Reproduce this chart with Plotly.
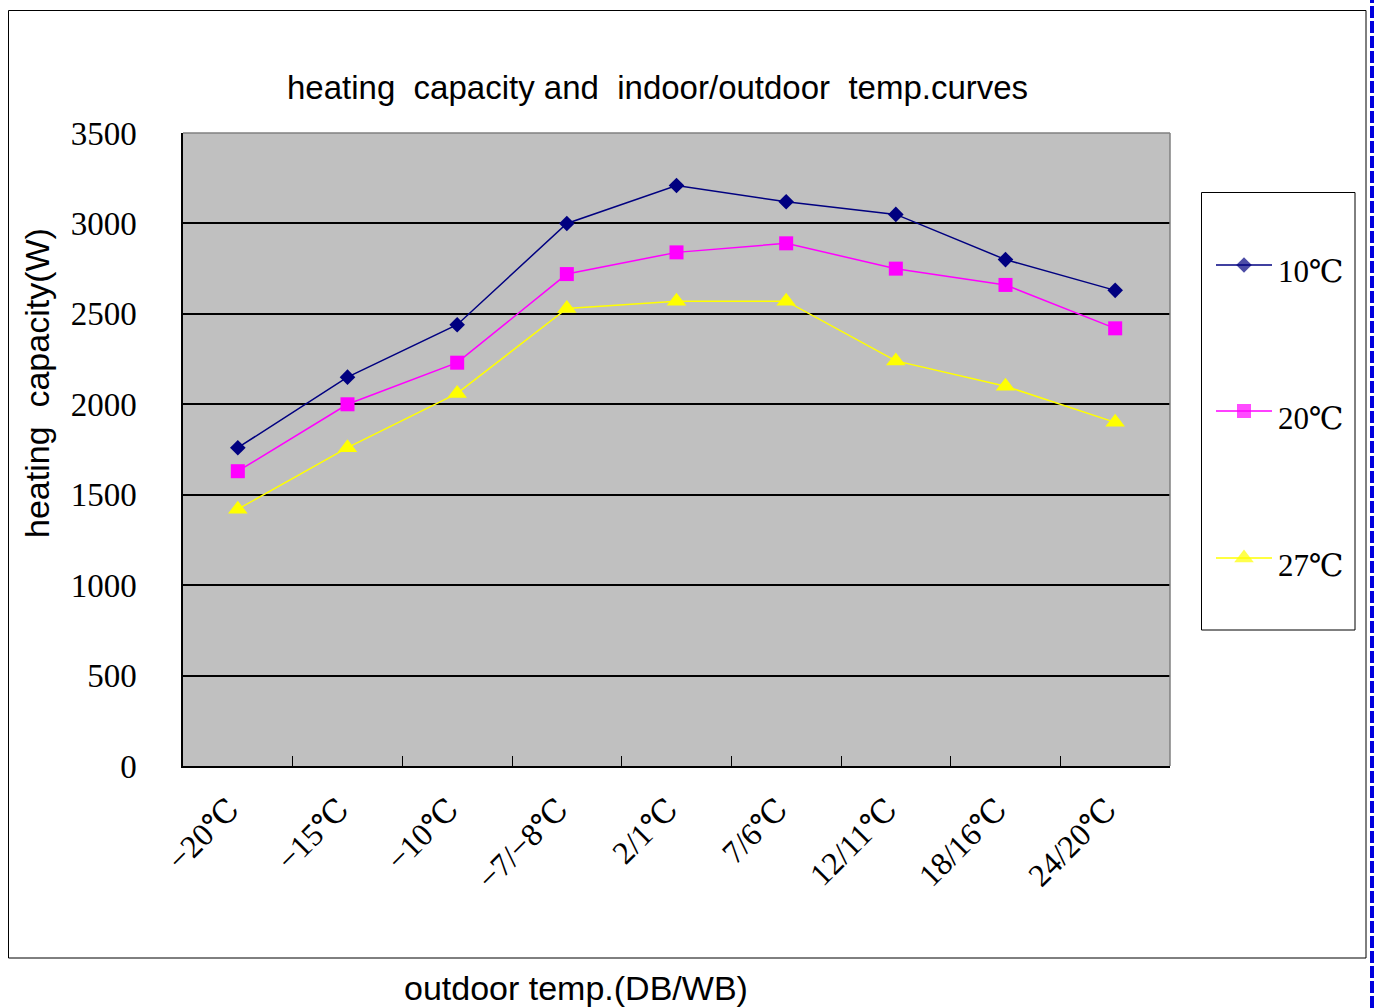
import plotly.graph_objects as go

# Outdoor conditions (DB/WB) on the x axis
categories = ["−20℃", "−15℃", "−10℃", "−7/−8℃", "2/1℃", "7/6℃", "12/11℃", "18/16℃", "24/20℃"]

# Heating capacity (W) for each indoor temperature
cap_10 = [1760, 2150, 2440, 3000, 3210, 3120, 3050, 2800, 2630]
cap_20 = [1630, 2000, 2230, 2720, 2840, 2890, 2750, 2660, 2420]
cap_27 = [1420, 1760, 2060, 2530, 2570, 2570, 2240, 2100, 1900]

series_names = ["10℃", "20℃", "27℃"]
series_colors = ["#000080", "#FF00FF", "#FFFF00"]
series_symbols = ["diamond", "square", "triangle-up"]
series_sizes = [12, 14, 17]
y_ticks = [0, 500, 1000, 1500, 2000, 2500, 3000, 3500]

W, H = 1378, 1008
# plot area in pixels
PL, PR, PT, PB = 183, 1170, 133, 766

def px(x):
    return x / W

def py(y):
    return 1 - y / H

SERIF = "Liberation Serif, DejaVu Serif, serif"
SANS = "Liberation Sans, Arial, sans-serif"

fig = go.Figure()

for name, vals, col, sym, sz in zip(series_names, [cap_10, cap_20, cap_27],
                                    series_colors, series_symbols, series_sizes):
    fig.add_trace(go.Scatter(
        x=categories, y=vals, mode="lines+markers", name=name,
        line=dict(color=col, width=1.5),
        marker=dict(symbol=sym, size=sz, color=col, line=dict(width=0)),
        xaxis="x", yaxis="y", showlegend=False, cliponaxis=False,
    ))

# Legend entries drawn on a full-figure pixel axis
legend_rows = [265, 411, 558]
for name, col, sym, sz, ly in zip(series_names, series_colors, series_symbols,
                                  series_sizes, legend_rows):
    fig.add_trace(go.Scatter(
        x=[1216, 1244, 1272], y=[ly, ly, ly], mode="lines+markers",
        line=dict(color=col, width=1.5),
        marker=dict(symbol=sym, size=[0, sz, 0], color=col, line=dict(width=0)),
        xaxis="x2", yaxis="y2", showlegend=False, hoverinfo="skip",
    ))
    fig.add_annotation(x=px(1276), y=py(ly + 7), xref="paper", yref="paper",
                       text=name, showarrow=False, xanchor="left", yanchor="middle",
                       font=dict(family=SERIF, size=31, color="black"))

shapes = [
    # plot area fill
    dict(type="rect", xref="paper", yref="paper", x0=px(PL), x1=px(PR), y0=py(PB), y1=py(PT),
         fillcolor="#C0C0C0", line=dict(width=0), layer="below"),
    # grey top and right border of plot area
    dict(type="line", xref="paper", yref="paper", x0=px(PL), x1=px(PR), y0=py(PT), y1=py(PT),
         line=dict(color="#808080", width=1.5), layer="above"),
    dict(type="line", xref="paper", yref="paper", x0=px(PR), x1=px(PR), y0=py(PT), y1=py(PB),
         line=dict(color="#808080", width=1.5), layer="above"),
    # outer chart border
    dict(type="rect", xref="paper", yref="paper", x0=px(8.5), x1=px(1366), y0=py(958), y1=py(10.5),
         line=dict(color="black", width=1), fillcolor="rgba(0,0,0,0)"),
    # legend box
    dict(type="rect", xref="paper", yref="paper", x0=px(1201.5), x1=px(1355), y0=py(630), y1=py(192.5),
         line=dict(color="black", width=1), fillcolor="white", layer="below"),
    # dashed blue page edge
    dict(type="line", xref="paper", yref="paper", x0=px(1372), x1=px(1372), y0=0, y1=1,
         line=dict(color="#0000DD", width=4, dash="12px,3px")),
]

annotations = [
    dict(x=px(657), y=py(87), xref="paper", yref="paper", showarrow=False,
         text="heating  capacity and  indoor/outdoor  temp.curves",
         font=dict(family=SANS, size=33, color="black"), xanchor="center", yanchor="middle"),
    dict(x=px(37), y=py(383), xref="paper", yref="paper", showarrow=False,
         text="heating  capacity(W)", textangle=-90,
         font=dict(family=SANS, size=34, color="black"), xanchor="center", yanchor="middle"),
    dict(x=px(576), y=py(988), xref="paper", yref="paper", showarrow=False,
         text="outdoor temp.(DB/WB)",
         font=dict(family=SANS, size=34, color="black"), xanchor="center", yanchor="middle"),
]
for a in annotations:
    fig.add_annotation(**a)

fig.update_layout(
    width=W, height=H,
    margin=dict(l=0, r=0, t=0, b=0, pad=0, autoexpand=False),
    paper_bgcolor="white", plot_bgcolor="rgba(0,0,0,0)",
    shapes=shapes,
    xaxis=dict(
        domain=[px(PL), px(PR)], type="category", range=[-0.5, 8.5],
        tickangle=-45, tickson="boundaries", ticks="inside", ticklen=10,
        tickcolor="black", showline=True, linecolor="black", linewidth=1.5,
        showgrid=False, tickfont=dict(family=SERIF, size=32, color="black"),
        ticklabelstandoff=10, ticklabelshift=-8, anchor="y", automargin=False,
    ),
    yaxis=dict(
        domain=[py(PB), py(PT)], range=[0, 3500], tickvals=y_ticks,
        ticks="inside", ticklen=10, tickcolor="black",
        showline=True, linecolor="black", linewidth=1.5,
        showgrid=True, gridcolor="black", gridwidth=1.5, zeroline=False,
        tickfont=dict(family=SERIF, size=33, color="black"),
        ticklabelstandoff=38, anchor="x", automargin=False,
    ),
    xaxis2=dict(domain=[0, 1], range=[0, W], visible=False, anchor="y2",
                fixedrange=True, automargin=False),
    yaxis2=dict(domain=[0, 1], range=[H, 0], visible=False, anchor="x2",
                fixedrange=True, automargin=False),
    showlegend=False,
)

fig.write_html("out.html")
